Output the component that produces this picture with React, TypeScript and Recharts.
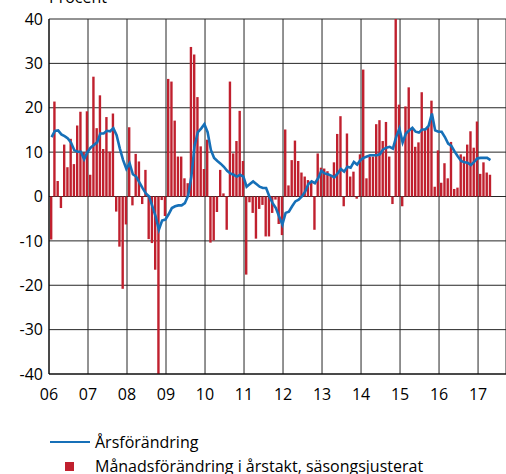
import React from 'react';
import { ComposedChart, Bar, Line, XAxis, YAxis, CartesianGrid } from 'recharts';

// Månadsförändring i årstakt, säsongsjusterat (jan 2006 – apr 2017)
const manad: number[] = [
    -9.7, 21.4, 3.5, -2.6, 11.7, 6.6, 13.0, 7.3, 16.0, 19.1, 10.0, 19.2,
    4.9, 27.0, 15.4, 22.8, 10.7, 17.9, 10.1, 18.7, -3.4, -11.3, -20.8, -6.3,
    15.6, -2.0, 9.6, 7.9, -1.7, 6.0, -9.6, -10.5, -16.5, -40.0, -0.8, -4.4,
    26.5, 25.9, 17.1, 9.0, 9.0, 4.1, 3.0, 33.7, 32.0, 22.4, 11.3, 6.2,
    12.8, -10.4, -9.9, -3.5, 6.0, 0.7, -7.5, 25.9, 9.7, 12.5, 19.3, 8.0,
    -17.6, -1.3, -3.7, -9.5, -2.8, -1.9, -9.0, -9.0, -3.7, -0.7, -6.2, -8.7,
    15.1, 2.5, 8.2, 12.6, 8.0, 5.4, 4.5, 3.7, 3.4, -7.5, 9.7, 6.5,
    6.3, 5.7, 4.6, 7.7, 14.1, 18.1, -2.2, 14.2, 4.5, 5.6, -0.5, 9.5,
    28.6, 4.1, 9.0, 9.0, 16.3, 17.2, 12.5, 16.8, 9.0, -1.7, 40.0, 20.7,
    -2.2, 20.3, 24.6, 15.5, 11.2, 12.2, 23.5, 15.3, 15.7, 21.6, 2.2, 10.4,
    3.1, 7.5, 4.1, 12.3, 1.7, 2.0, 9.5, 9.0, 11.7, 14.7, 11.0, 16.9,
    5.1, 7.7, 5.4, 4.9,
];

// Årsförändring
const ars: number[] = [
    13.4, 14.8, 14.9, 14.0, 13.6, 13.1, 12.1, 10.4, 10.1, 10.1, 8.4, 10.0,
    11.0, 11.6, 12.2, 14.2, 14.2, 14.8, 14.7, 15.4, 13.8, 10.8, 8.2, 6.2,
    7.5, 5.0, 4.5, 3.2, 1.9, 0.7, 0.0, -2.2, -4.5, -7.5, -5.4, -5.2,
    -4.0, -2.6, -2.2, -2.0, -2.0, -1.5, 0.2, 4.5, 11.5, 14.5, 15.3, 16.3,
    14.5, 10.5, 8.7, 8.0, 7.4, 6.7, 5.8, 5.2, 4.9, 4.5, 4.9, 4.5,
    2.2, 2.8, 3.4, 2.8, 2.2, 1.9, 1.9, 0.0, -1.5, -2.6, -4.5, -6.3,
    -3.7, -3.4, -2.2, -1.1, -0.7, 0.0, 1.1, 2.8, 3.4, 3.0, 4.1, 5.8,
    5.2, 5.0, 4.7, 4.3, 5.2, 6.2, 5.6, 6.7, 6.5, 7.8, 7.2, 8.2,
    8.7, 9.0, 9.3, 9.3, 9.3, 9.5, 10.6, 11.0, 11.2, 10.8, 13.4, 15.3,
    12.2, 14.2, 14.9, 15.5, 14.6, 14.4, 15.1, 15.1, 15.9, 18.7, 14.9, 14.6,
    14.6, 13.4, 11.9, 11.4, 10.1, 9.0, 8.0, 7.7, 7.6, 7.1, 7.8, 8.6,
    8.7, 8.7, 8.7, 8.2,
];

const yearLabels = ['06', '07', '08', '09', '10', '11', '12', '13', '14', '15', '16', '17'];
const yTicks = [-40, -30, -20, -10, 0, 10, 20, 30, 40];

const RED = '#c0202e';
const BLUE = '#1670b8';
const FONT = '"Open Sans", sans-serif';

const data = manad.map((v, i) => ({ t: i + 0.8, manad: v, ars: ars[i] }));
const xTicks = yearLabels.map((_, i) => i * 12);

export default function App() {
    return (
        <div style={{ position: 'absolute', left: 0, top: 0, width: 506, height: 474, overflow: 'hidden', fontFamily: FONT, background: '#fff' }}>
            <div style={{ position: 'absolute', left: 49, top: -14, fontSize: 16, color: '#000' }}>Procent</div>
            <ComposedChart width={506} height={474} data={data} margin={{ top: 19, right: 0, bottom: 70, left: 0 }}>
                <CartesianGrid stroke="#262626" strokeWidth={1} />
                <XAxis
                    type="number"
                    dataKey="t"
                    domain={[0, 140.6]}
                    allowDataOverflow
                    ticks={xTicks}
                    interval={0}
                    tickFormatter={(v: number) => yearLabels[v / 12]}
                    tickLine={false}
                    tickSize={0}
                    tickMargin={15}
                    height={30}
                    axisLine={{ stroke: '#000' }}
                    tick={{ fill: '#000', fontSize: 16, fontFamily: FONT }}
                />
                <YAxis
                    domain={[-40, 40]}
                    ticks={yTicks}
                    interval={0}
                    width={49}
                    tickLine={false}
                    tickSize={0}
                    tickMargin={6}
                    axisLine={{ stroke: '#000' }}
                    tick={{ fill: '#000', fontSize: 16, fontFamily: FONT }}
                />
                <Bar dataKey="manad" fill={RED} barSize={2.4} isAnimationActive={false} />
                <Line type="linear" dataKey="ars" stroke={BLUE} strokeWidth={2.6} dot={false} isAnimationActive={false} />
            </ComposedChart>
            <div style={{ position: 'absolute', left: 50, top: 430, fontSize: 16, color: '#000', lineHeight: '24px' }}>
                <div style={{ display: 'flex', alignItems: 'center' }}>
                    <span style={{ display: 'inline-block', width: 40, height: 2.5, background: BLUE, marginRight: 5 }} />
                    <span>Årsförändring</span>
                </div>
                <div style={{ display: 'flex', alignItems: 'center' }}>
                    <span style={{ display: 'inline-block', width: 9, height: 9, background: RED, marginLeft: 15, marginRight: 21 }} />
                    <span>Månadsförändring i årstakt, säsongsjusterat</span>
                </div>
            </div>
        </div>
    );
}
